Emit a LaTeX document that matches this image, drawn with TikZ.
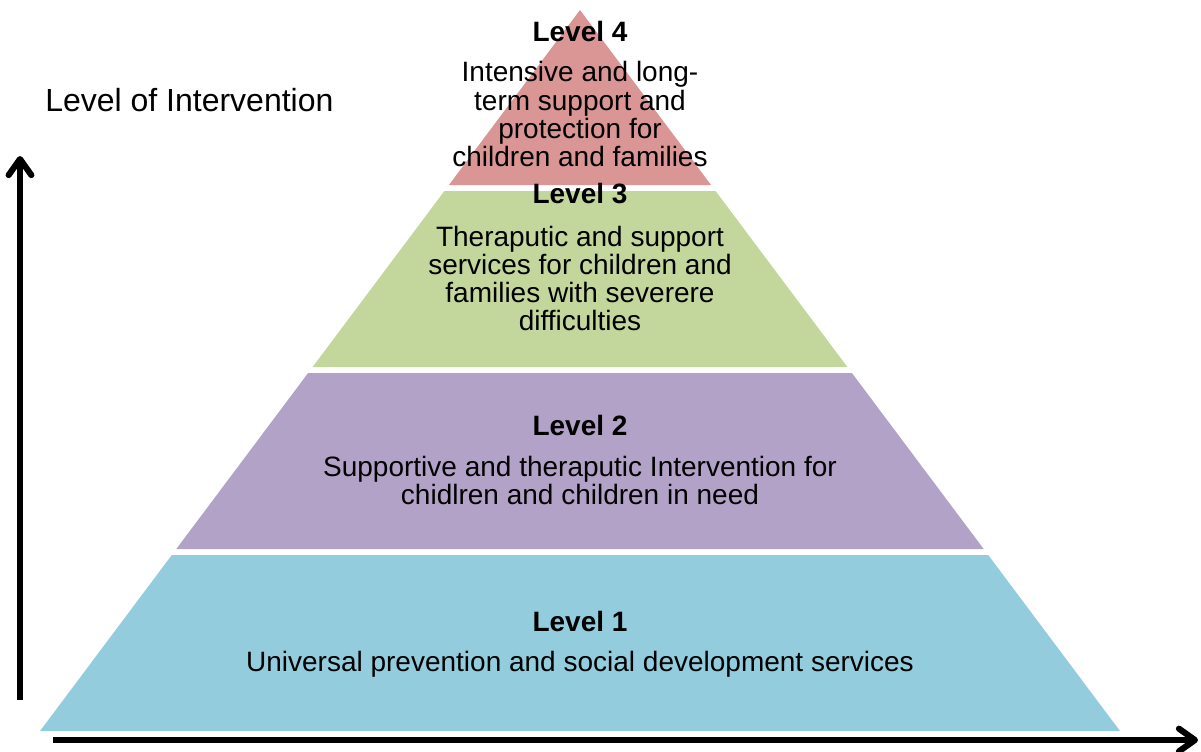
\documentclass[tikz,border=0pt]{standalone}
\usepackage{fontspec}
\setmainfont{Liberation Sans}
\usetikzlibrary{arrows.meta}
\definecolor{c4}{HTML}{D99694}
\definecolor{c3}{HTML}{C3D69B}
\definecolor{c2}{HTML}{B3A2C7}
\definecolor{c1}{HTML}{93CDDD}
\begin{document}
\begin{tikzpicture}[x=0.75pt,y=-0.75pt,
  leveltitle/.style={anchor=base,inner sep=0pt,font=\fontsize{21}{21.2}\selectfont\bfseries},
  levelbody/.style={anchor=base,inner sep=0pt,align=center,font=\fontsize{21}{21.2}\selectfont},
  axis/.style={line width=4.6pt,-{Straight Barb[length=12pt,width=17pt,round]}}]
\useasboundingbox (0,0) rectangle (1201,751);
% pyramid bands
\fill[c4] (580,10) -- (711.1,185) -- (448.9,185) -- cycle;
\fill[c3] (444.4,191) -- (715.6,191) -- (847.4,367) -- (312.6,367) -- cycle;
\fill[c2] (308.1,373) -- (851.9,373) -- (983.7,549) -- (176.3,549) -- cycle;
\fill[c1] (171.8,555) -- (988.2,555) -- (1120,731) -- (40,731) -- cycle;
% texts (multi-line nodes: base = baseline of last line)
\node[leveltitle] (t4) at (580,41) {Level 4};
\node[levelbody] (b4) at (580,166.7) {Intensive and long-\\term support and\\protection for\\children and families};
\node[leveltitle] (t3) at (580,203) {Level 3};
\node[levelbody] (b3) at (580,330.9) {Theraputic and support\\services for children and\\families with severere\\difficulties};
\node[leveltitle] (t2) at (580,435) {Level 2};
\node[levelbody] (b2) at (580,504.3) {Supportive and theraputic Intervention for\\chidlren and children in need};
\node[leveltitle] (t1) at (580,631) {Level 1};
\node[levelbody] (b1) at (580,671) {Universal prevention and social development services};
\node[anchor=base west,inner sep=0pt,font=\fontsize{24}{28}\selectfont] (axlabel) at (45,111) {Level of Intervention};
% axes
\coordinate (ybot) at (20,700);
\coordinate (ytop) at (20,156);
\coordinate (xleft) at (53,740);
\coordinate (xright) at (1198,740);
\draw[axis] (ybot) -- (ytop);
\draw[axis] (xleft) -- (xright);
\end{tikzpicture}
\end{document}
